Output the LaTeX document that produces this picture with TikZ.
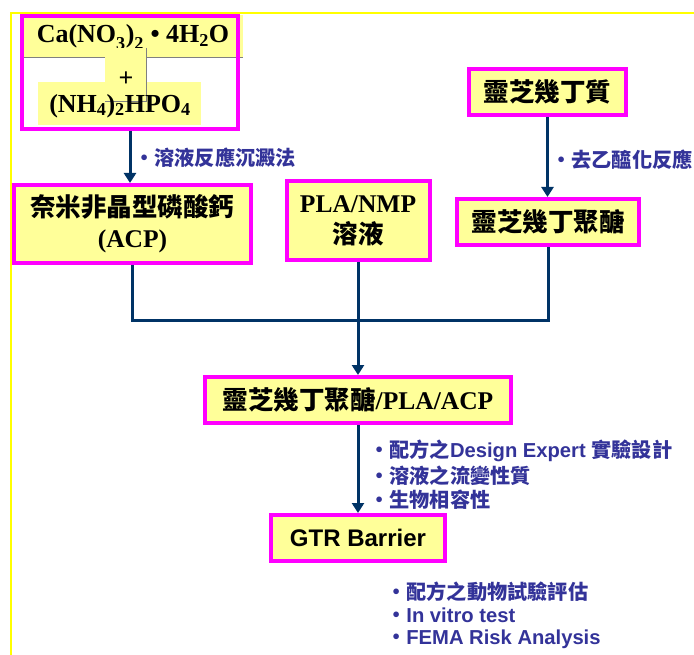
\documentclass[tikz,border=0pt]{standalone}
\usepackage{fontspec}
\setmainfont{Liberation Serif}
\newfontfamily\cjk{Noto Sans CJK TC}
\newfontfamily\arial{Liberation Sans}
\usetikzlibrary{arrows.meta}
\definecolor{mag}{HTML}{FF00FF}
\definecolor{fillY}{HTML}{FFFF99}
\definecolor{navy}{HTML}{003366}
\definecolor{lblue}{HTML}{333399}
\definecolor{frameY}{HTML}{FFFF00}
\tikzset{
  box/.style={draw=mag, line width=4pt, fill=fillY, inner sep=0pt, align=center,
    font=\fontsize{25.5}{31}\selectfont\bfseries},
  ybox/.style={fill=fillY, inner sep=0pt, anchor=north west},
  frm/.style={text=black, inner sep=0pt, font=\fontsize{26}{30}\selectfont\bfseries},
  thin/.style={draw=gray, line width=0.7pt},
  conn/.style={draw=navy, line width=3pt},
  arr/.style={conn, -{Triangle[width=12pt,length=10pt]}},
  lbl/.style={anchor=west, inner sep=0pt, text=lblue, font=\fontsize{20.2}{24}\selectfont\bfseries},
}
\begin{document}
\begin{tikzpicture}[x=1pt,y=-1pt]
\useasboundingbox (0,0) rectangle (694,655);
% yellow slide frame
\draw[frameY, line width=2pt] (10.5,655) -- (10.5,13) -- (694,13);

% source box contents
\node[ybox, minimum width=221pt, minimum height=42pt] (ca) at (22,15) {};
\node[frm] (catext) at (133,37) {Ca(NO\raisebox{-3pt}{\textsubscript{3}})\raisebox{-3pt}{\textsubscript{2}}\ •\ 4H\textsubscript{2}O};
\draw[thin] (ca.south west) -- (ca.south east);
\node[ybox, minimum width=41pt, minimum height=53pt] (plus) at (105,48) {};
\node[ybox, minimum width=163pt, minimum height=43pt] (nh) at (38,82) {};
\draw[thin] (plus.north east) -- (plus.south east) -- (plus.south west);
\node[frm] (nhtext) at (120,106) {(NH\textsubscript{4})\textsubscript{2}HPO\textsubscript{4}};
\node[frm] (plussign) at (126,79) {+};
\node[draw=mag, line width=4pt, minimum width=216pt, minimum height=113pt, inner sep=0pt] (src) at (130,72.5) {};

% boxes
\node[box, minimum width=237pt, minimum height=78pt] (acp) at (132.5,224) {{\cjk 奈米非晶型磷酸鈣}\\(ACP)};
\node[box, minimum width=143pt, minimum height=79pt] (pla) at (358,220.5) {PLA/NMP\\{\cjk 溶液}};
\node[box, minimum width=157pt, minimum height=46pt] (jd) at (547.5,92) {\cjk 靈芝幾丁質};
\node[box, minimum width=182pt, minimum height=46pt] (jm) at (548,222) {\cjk 靈芝幾丁聚醣};
\node[box, minimum width=306pt, minimum height=46pt] (comb) at (358,400) {{\cjk 靈芝幾丁聚醣}/PLA/ACP};
\node[box, minimum width=174pt, minimum height=46pt, font=\fontsize{24}{28}\selectfont\bfseries\arial] (gtr) at (358,538) {GTR Barrier};

% connectors
\coordinate (bus) at (358,321);
\draw[arr] (src.south) -- (src.south |- acp.north);
\draw[arr] (jd.south) -- (jd.south |- jm.north);
\draw[conn] (acp.south) |- (bus) -| (jm.south);
\draw[arr] (pla.south) -- (comb.north);
\draw[arr] (comb.south) -- (gtr.north);

% labels
\node[lbl] (l1) at (134,158) {\cjk ・溶液反應沉澱法};
\node[lbl] (l2) at (551,160) {\cjk ・去乙醯化反應};
\node[lbl] (l3) at (369,451) {{\cjk ・配方之}{\arial Design Expert }{\cjk 實驗設計}};
\node[lbl] (l4) at (369,476) {\cjk ・溶液之流變性質};
\node[lbl] (l5) at (369,500) {\cjk ・生物相容性};
\node[lbl] (l6) at (386,592) {\cjk ・配方之動物試驗評估};
\node[lbl] (l7) at (386,615) {{\cjk ・}{\arial In vitro test}};
\node[lbl] (l8) at (386,639) {{\cjk ・}{\arial FEMA Risk Analysis}};
\end{tikzpicture}
\end{document}
